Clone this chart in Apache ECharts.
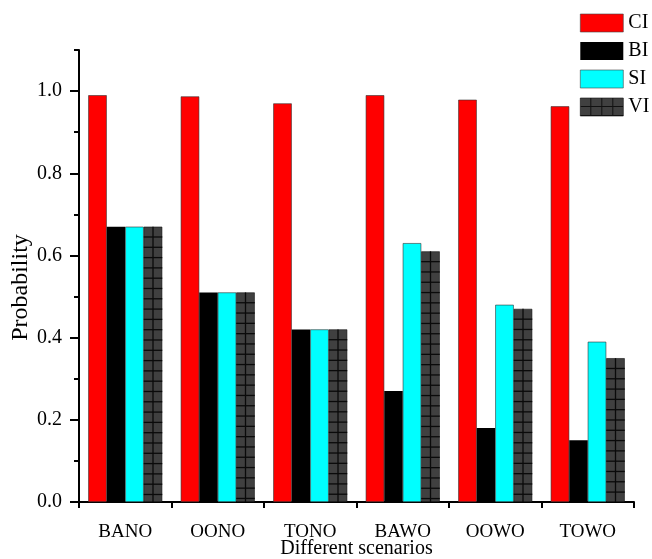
<!DOCTYPE html>
<html>
<head>
<meta charset="utf-8">
<script src="https://cdn.jsdelivr.net/npm/echarts@6/dist/echarts.min.js"></script>
<style>
html,body{margin:0;padding:0;background:#fff;}
#chart{width:652px;height:559px;}
</style>
</head>
<body>
<div id="chart"></div>
<script>
const categories = ['BANO', 'OONO', 'TONO', 'BAWO', 'OOWO', 'TOWO'];
const ciValues = [0.99, 0.987, 0.97, 0.99, 0.979, 0.963];
const biValues = [0.67, 0.51, 0.42, 0.27, 0.18, 0.15];
const siValues = [0.67, 0.51, 0.42, 0.63, 0.48, 0.39];
const viValues = [0.67, 0.51, 0.42, 0.61, 0.47, 0.35];
const yTicks = [0, 0.2, 0.4, 0.6, 0.8, 1.0];

const FONT = "'Liberation Serif', 'Times New Roman', serif";
const BW = 18.5;

function makePattern() {
  const c = document.createElement('canvas');
  c.width = 11; c.height = 9;
  const ctx = c.getContext('2d');
  ctx.fillStyle = '#404040';
  ctx.fillRect(0, 0, 11, 9);
  ctx.fillStyle = '#111';
  ctx.fillRect(10, 0, 1, 9);
  ctx.fillRect(0, 8, 11, 1);
  return { image: c, repeat: 'repeat' };
}

const chart = echarts.init(document.getElementById('chart'), null, { renderer: 'canvas' });

const barBorder = { borderColor: '#333', borderWidth: 0.6 };

const option = {
  backgroundColor: '#fff',
  animation: false,
  textStyle: { fontFamily: FONT, color: '#000' },
  legend: {
    orient: 'vertical',
    left: 575,
    top: 8,
    icon: 'rect',
    itemWidth: 43,
    itemHeight: 18,
    itemGap: 8,
    textStyle: { fontFamily: FONT, fontSize: 20, color: '#000' },
    data: [
      { name: 'CI', itemStyle: { color: '#ff0000', borderColor: '#444', borderWidth: 0.6 } },
      { name: 'BI', itemStyle: { color: '#000000' } },
      { name: 'SI', itemStyle: { color: '#00ffff', borderColor: '#444', borderWidth: 0.6 } },
      { name: 'VI', itemStyle: { color: makePattern(), borderColor: '#111', borderWidth: 0.6 } }
    ]
  },
  grid: { left: 79, right: 18, top: 50, bottom: 57, containLabel: false, outerBoundsMode: 'none' },
  xAxis: [
    {
      type: 'category',
      data: categories,
      axisLine: { lineStyle: { color: '#000', width: 2 } },
      axisTick: { alignWithLabel: true, length: 13, lineStyle: { color: '#000', width: 2 } },
      axisLabel: { fontFamily: FONT, fontSize: 19, color: '#000', margin: 21 },
      name: 'Different scenarios',
      nameLocation: 'middle',
      nameGap: 37,
      nameMoveOverlap: false,
      nameTextStyle: { fontFamily: FONT, fontSize: 20, color: '#000' }
    },
    {
      type: 'category',
      data: categories,
      position: 'bottom',
      axisLine: { show: false },
      axisTick: { show: true, length: 6, lineStyle: { color: '#000', width: 2 } },
      axisLabel: { show: false }
    }
  ],
  yAxis: [
    {
      type: 'value',
      min: 0,
      max: 1.1,
      interval: 0.2,
      splitLine: { show: false },
      axisLine: { show: true, lineStyle: { color: '#000', width: 2 } },
      axisTick: { show: true, length: 9, lineStyle: { color: '#000', width: 2 } },
      axisLabel: {
        fontFamily: FONT, fontSize: 20, color: '#000', margin: 17,
        showMaxLabel: false,
        formatter: v => yTicks.some(t => Math.abs(t - v) < 1e-6) ? v.toFixed(1) : ''
      },
      name: 'Probability',
      nameLocation: 'middle',
      nameGap: 46,
      nameMoveOverlap: false,
      nameRotate: 90,
      nameTextStyle: { fontFamily: FONT, fontSize: 24, color: '#000', padding: [0, 23, 0, 0] }
    },
    {
      type: 'value',
      min: 0,
      max: 1.1,
      interval: 0.1,
      position: 'left',
      splitLine: { show: false },
      axisLine: { show: false },
      axisTick: { show: true, length: 5, lineStyle: { color: '#000', width: 2 } },
      axisLabel: { show: false }
    }
  ],
  series: [
    { name: 'CI', type: 'bar', data: ciValues, barWidth: BW, barGap: '0%', itemStyle: Object.assign({ color: '#ff0000' }, barBorder) },
    { name: 'BI', type: 'bar', data: biValues, barWidth: BW, barGap: '0%', itemStyle: { color: '#000000' } },
    { name: 'SI', type: 'bar', data: siValues, barWidth: BW, barGap: '0%', itemStyle: Object.assign({ color: '#00ffff' }, barBorder) },
    { name: 'VI', type: 'bar', data: viValues, barWidth: BW, barGap: '0%', itemStyle: { color: '#404040', borderColor: '#111', borderWidth: 0.6 } },
    {
      name: 'VIgrid',
      type: 'custom',
      silent: true,
      z: 5,
      data: viValues.map((v, i) => [i, v]),
      encode: { x: 0, y: 1 },
      renderItem: function (params, api) {
        const idx = api.value(0);
        const v = api.value(1);
        const top = api.coord([idx, v]);
        const bot = api.coord([idx, 0]);
        const x0 = top[0] + BW;
        const x1 = x0 + BW;
        const children = [];
        const xm = (x0 + x1) / 2;
        children.push({ type: 'line', shape: { x1: xm, y1: top[1], x2: xm, y2: bot[1] }, style: { stroke: '#0a0a0a', lineWidth: 1.3 } });
        const step = 10.3;
        for (let y = top[1] + step; y < bot[1] - 2; y += step) {
          children.push({ type: 'line', shape: { x1: x0, y1: y, x2: x1, y2: y }, style: { stroke: '#0a0a0a', lineWidth: 1.3 } });
        }
        return { type: 'group', children: children };
      }
    }
  ]
};

chart.setOption(option);
</script>
</body>
</html>
